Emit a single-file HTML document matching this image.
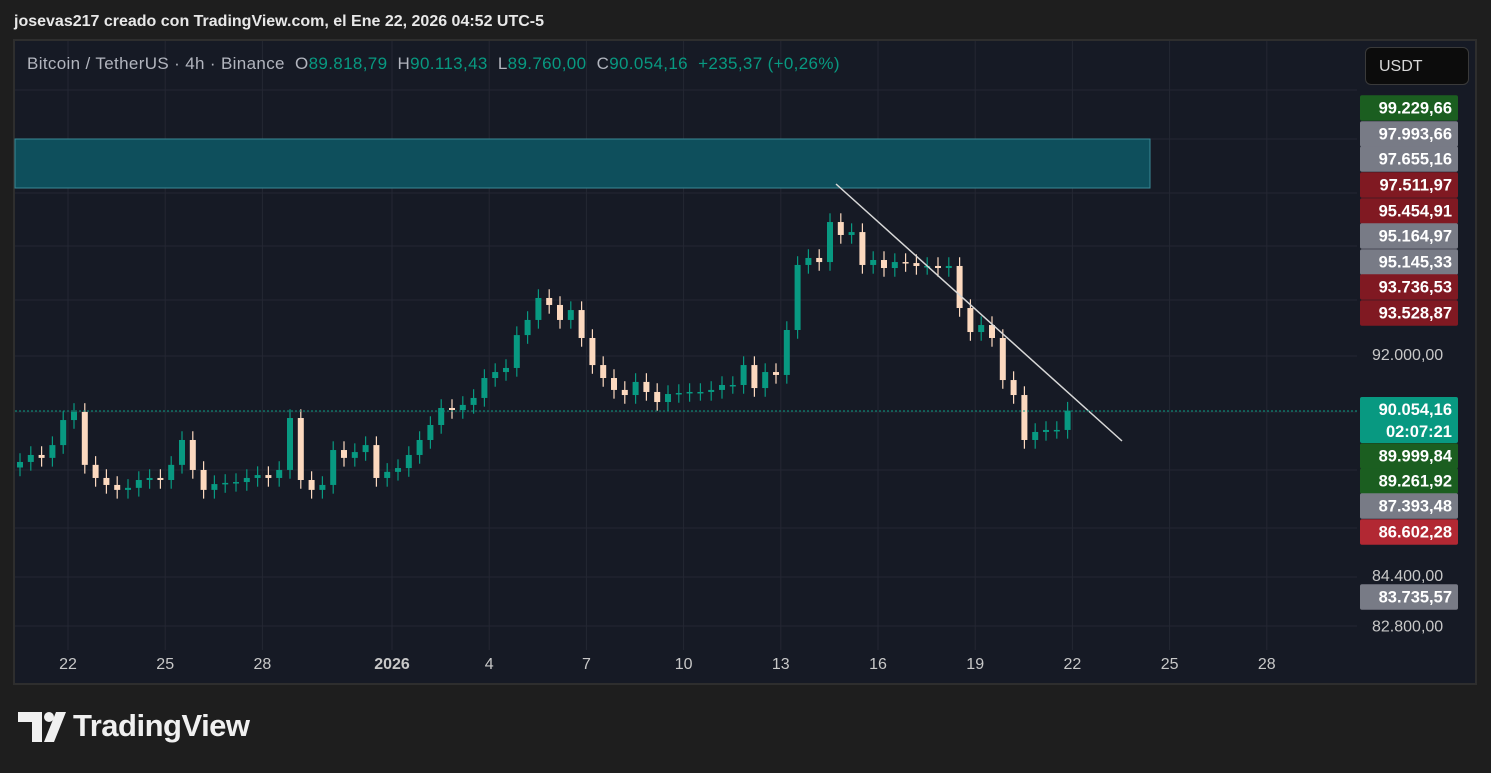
<!DOCTYPE html>
<html><head><meta charset="utf-8"><style>
body{margin:0;width:1491px;height:773px;background:#1e1e1e;font-family:"Liberation Sans",sans-serif;overflow:hidden;position:relative}
.t{position:absolute;white-space:nowrap}
</style></head><body>
<div class="t" style="left:14px;top:13px;font-size:16px;color:#e8e8e8;font-weight:bold">josevas217 creado con TradingView.com, el Ene 22, 2026 04:52 UTC-5</div>
<svg id="c" width="1491" height="773" style="position:absolute;left:0;top:0">
<rect x="14" y="40" width="1462" height="644" fill="#161a25" stroke="#2e2e2e" stroke-width="2"/>
<g id="grid"></g>
<rect x="15" y="139" width="1135" height="49" fill="#0e4f5c" stroke="#3a8a96" stroke-width="1"/>
<g id="candles"></g>
<line x1="836" y1="184" x2="1122" y2="441" stroke="#d8d8d8" stroke-width="1.5"/>
<line x1="15" y1="411" x2="1357" y2="411" stroke="#089981" stroke-dasharray="2,2"/>
<g id="xaxis"></g><g id="yaxis"></g><g id="labels"></g>
<g fill="#f0f0f0">
<path d="M18 712h24v30h-10v-20h-14z"/><circle cx="49" cy="717" r="5"/><path d="M56 712h10l-12 30h-10z"/>
</g>
</svg>
<div class="t" style="left:27px;top:54px;font-size:17px;letter-spacing:0.35px;color:#b2b5be">Bitcoin / TetherUS · 4h · Binance&nbsp; O<span style="color:#089981">89.818,79</span>&nbsp; H<span style="color:#089981">90.113,43</span>&nbsp; L<span style="color:#089981">89.760,00</span>&nbsp; C<span style="color:#089981">90.054,16</span>&nbsp; <span style="color:#089981">+235,37 (+0,26%)</span></div>
<div class="t" style="left:1365px;top:47px;width:104px;height:38px;background:#0c0c0c;border:1px solid #3a3a3a;border-radius:6px;color:#d8d8d8;font-size:16px;line-height:38px;box-sizing:border-box;padding-left:13px">USDT</div>
<div class="t" style="left:73px;top:708px;font-size:31px;font-weight:bold;color:#f0f0f0;letter-spacing:-0.5px">TradingView</div>
<script>
const closes=[88290,88530,88430,88870,89730,90010,88190,87740,87500,87330,87400,87670,87740,87670,88190,89045,88015,87330,87530,87570,87600,87740,87840,87740,88015,89800,87670,87330,87500,88700,88430,88630,88870,87740,87950,88080,88530,89045,89560,90145,90075,90250,90490,91175,91380,91520,92650,93170,93925,93685,93170,93510,92550,91620,91175,90765,90590,91040,90695,90350,90625,90660,90695,90695,90765,90935,90935,91620,90830,91380,91280,92825,95060,95300,95160,96535,96090,96190,95060,95230,94955,95160,95125,95025,95025,94955,95025,93580,92755,92995,92550,91105,90590,89045,89320,89390,89390,90054];
const firstOpen=88100;
const yTicks=[92000,84400,82800];
const yTickLabels=["92.000,00","84.400,00","82.800,00"];
const xTickDays=[22,25,28,32,35,38,41,44,47,50,53,56,59];
const xTickLabels=["22","25","28","2026","4","7","10","13","16","19","22","25","28"];
const tagPrices=[99229.66,97993.66,97655.16,97511.97,95454.91,95164.97,95145.33,93736.53,93528.87,89999.84,89261.92,87393.48,86602.28,83735.57];
const tagColors=["#1b5e20","#787b86","#787b86","#801922","#801922","#787b86","#787b86","#801922","#801922","#1b5e20","#1b5e20","#787b86","#b22833","#787b86"];
const tagY=[108,134,159,185,211,236,262,287,313,456,481,506,532,597];
const ns="http://www.w3.org/2000/svg";
const Y=p=>354-(p-92000)*0.0291;
const X=d=>68+(d-22)*32.4;
const CX=i=>20+i*10.8;
function mk(t,a,parent){const e=document.createElementNS(ns,t);for(const k in a)e.setAttribute(k,a[k]);document.getElementById(parent).appendChild(e);return e;}
[90,139,193,246,300,356,412,470,528,577,626].forEach(y=>{const g=mk('line',{x1:15,x2:1357,y1:y,y2:y,stroke:'#242733'},'grid');

});
xTickDays.forEach((d,i)=>{const g=mk('line',{x1:X(d),x2:X(d),y1:41,y2:650,stroke:'#242733'},'grid');


const t=mk('text',{x:X(d),y:669,fill:'#c8c8c8','font-size':16,'text-anchor':'middle','font-weight':xTickLabels[i]==='2026'?'bold':'normal'},'xaxis');t.textContent=xTickLabels[i];

});
yTicks.forEach((p,i)=>{const t=mk('text',{x:1372,y:Y(p)+6+(p<84000?4:0),fill:'#c8c8c8','font-size':16},'yaxis');t.textContent=yTickLabels[i];

});
closes.forEach((c,i)=>{const o=i?closes[i-1]:firstOpen;const up=c>=o;const col=up?'#089981':'#fcd9bf';
const hi=Math.max(o,c)+300,lo=Math.min(o,c)-300;
const w=mk('line',{x1:CX(i),x2:CX(i),y1:Y(hi),y2:Y(lo),stroke:col,'stroke-width':1.2},'candles');


const b=mk('rect',{x:CX(i)-3,y:Y(Math.max(o,c)),width:6,height:Math.max(1.5,Math.abs(Y(o)-Y(c))),fill:col},'candles');

});
function tag(y,h,col,lines,name){const r=mk('rect',{x:1360,y:y-h/2,width:98,height:h,fill:col,rx:2},'labels');


lines.forEach((s,k)=>{const t=mk('text',{x:1452,y:y-h/2+18+k*22,fill:'#fff','font-size':16.5,'text-anchor':'end','font-weight':'bold'},'labels');t.textContent=s;

});}
tagPrices.forEach((p,i)=>{const s=p.toFixed(2).replace('.',',').replace(/\B(?=(\d{3})+(?!\d))/g,'.');tag(tagY[i],25.5,tagColors[i],[s],'price-tag');});
tag(420,46,'#089981',['90.054,16','02:07:21'],'last-price-tag');
</script>
</body></html>
